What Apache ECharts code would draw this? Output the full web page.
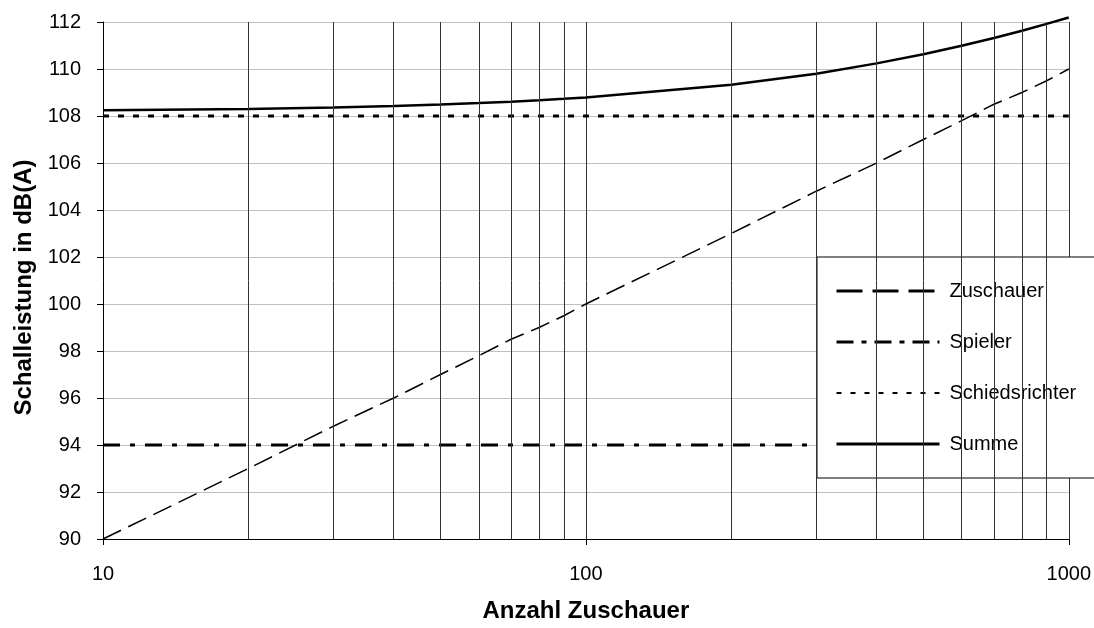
<!DOCTYPE html>
<html>
<head>
<meta charset="utf-8">
<script src="https://cdn.jsdelivr.net/npm/echarts@6/dist/echarts.min.js"></script>
<style>
  html, body { margin: 0; padding: 0; background: #fff; }
  #chart { width: 1094px; height: 628px; }
</style>
</head>
<body>
<div id="chart"></div>
<script>
// Anzahl Zuschauer (x, logarithmic)
const zuschauerAnzahl = [10, 20, 30, 40, 50, 60, 70, 80, 90, 100, 200, 300, 400, 500, 600, 700, 800, 900, 1000];
// Schallleistungspegel in dB(A)
const zuschauer = [90.0, 93.0, 94.8, 96.0, 97.0, 97.8, 98.5, 99.0, 99.5, 100.0, 103.0, 104.8, 106.0, 107.0, 107.8, 108.5, 109.0, 109.5, 110.0];
const spieler = [94, 94, 94, 94, 94, 94, 94, 94, 94, 94, 94, 94, 94, 94, 94, 94, 94, 94, 94];
const schiedsrichter = [108, 108, 108, 108, 108, 108, 108, 108, 108, 108, 108, 108, 108, 108, 108, 108, 108, 108, 108];
const summe = [108.24, 108.30, 108.36, 108.43, 108.49, 108.55, 108.61, 108.67, 108.73, 108.79, 109.33, 109.80, 110.24, 110.63, 110.99, 111.32, 111.63, 111.92, 112.19];
// secondary vertical grid lines of the log axis
const nebenlinien = [20, 30, 40, 50, 60, 70, 80, 90, 200, 300, 400, 500, 600, 700, 800, 900];
const serienNamen = ['Zuschauer', 'Spieler', 'Schiedsrichter', 'Summe'];

const pairs = ys => zuschauerAnzahl.map((x, i) => [x, ys[i]]);
const font = 'Liberation Sans, Arial, sans-serif';
const keinSymbol = { opacity: 0 };

const chart = echarts.init(document.getElementById('chart'), null, { renderer: 'canvas' });
chart.setOption({
  animation: false,
  backgroundColor: '#fff',
  textStyle: { fontFamily: font },
  grid: { left: 103, right: 21, top: 22, bottom: 86, containLabel: false },
  xAxis: {
    type: 'log', logBase: 10, min: 10, max: 1000,
    name: 'Anzahl Zuschauer', nameLocation: 'middle', nameGap: 60,
    nameTextStyle: { fontSize: 24, fontWeight: 'bold', color: '#000', fontFamily: font },
    axisLine: { lineStyle: { color: '#000', width: 1 } },
    axisTick: { show: true, length: 6, lineStyle: { color: '#000' } },
    axisLabel: { fontSize: 20, color: '#000', margin: 25, fontFamily: font, formatter: v => String(v) },
    splitLine: { show: true, lineStyle: { color: '#333', width: 1 } }
  },
  yAxis: {
    type: 'value', min: 90, max: 112, interval: 2,
    name: 'Schalleistung in dB(A)', nameLocation: 'middle', nameGap: 65, nameRotate: 90,
    nameTextStyle: { fontSize: 24, fontWeight: 'bold', color: '#000', fontFamily: font, padding: [0, 14, 0, 0] },
    axisLine: { show: true, lineStyle: { color: '#000', width: 1 } },
    axisTick: { show: true, length: 6, lineStyle: { color: '#000' } },
    axisLabel: { fontSize: 20, color: '#000', margin: 22, fontFamily: font },
    splitLine: { show: true, lineStyle: { color: '#c0c0c0', width: 1 } }
  },
  legend: {
    orient: 'vertical', left: 817, top: 257,
    backgroundColor: '#fff', borderColor: '#000', borderWidth: 1,
    padding: [24, 60, 24, 18],
    itemWidth: 103, itemHeight: 20, itemGap: 31,
    textStyle: { fontSize: 20, color: '#000', fontFamily: font, padding: [0, 0, 0, 5] },
    data: [
      { name: 'Zuschauer', itemStyle: keinSymbol, lineStyle: { type: [26, 10], width: 3, color: '#000' } },
      { name: 'Spieler', itemStyle: keinSymbol, lineStyle: { type: [17, 8, 5, 8], width: 3, color: '#000' } },
      { name: 'Schiedsrichter', itemStyle: keinSymbol, lineStyle: { type: [5, 9], width: 2, color: '#000' } },
      { name: 'Summe', itemStyle: keinSymbol, lineStyle: { type: 'solid', width: 3, color: '#000' } }
    ]
  },
  series: [
    {
      name: 'Nebenlinien', type: 'line', data: [], silent: true,
      markLine: {
        silent: true, symbol: 'none', label: { show: false },
        lineStyle: { type: 'solid', color: '#333', width: 1 },
        data: nebenlinien.map(v => ({ xAxis: v }))
      }
    },
    {
      name: serienNamen[0], type: 'line', data: pairs(zuschauer), showSymbol: false, symbol: 'none',
      lineStyle: { color: '#000', width: 1.5, type: [20, 8] }, itemStyle: { color: '#000' }, z: 3
    },
    {
      name: serienNamen[1], type: 'line', data: pairs(spieler), showSymbol: false, symbol: 'none',
      lineStyle: { color: '#000', width: 3, type: [17, 10, 5, 10] }, itemStyle: { color: '#000' }, z: 3
    },
    {
      name: serienNamen[2], type: 'line', data: pairs(schiedsrichter), showSymbol: false, symbol: 'none',
      lineStyle: { color: '#000', width: 3, type: [6, 9] }, itemStyle: { color: '#000' }, z: 3
    },
    {
      name: serienNamen[3], type: 'line', data: pairs(summe), showSymbol: false, symbol: 'none', clip: false,
      lineStyle: { color: '#000', width: 2.5, type: 'solid' }, itemStyle: { color: '#000' }, z: 3
    }
  ]
});
</script>
</body>
</html>
